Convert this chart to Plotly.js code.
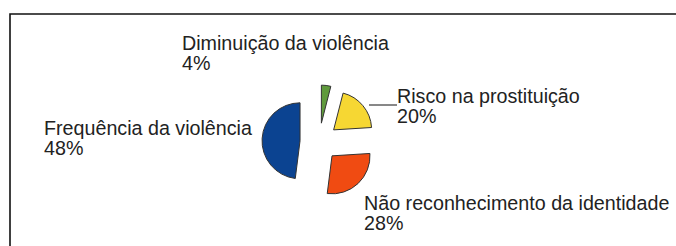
<!DOCTYPE html>
<html>
<head>
<meta charset="utf-8">
<script src="https://cdn.plot.ly/plotly-3.0.1.min.js"></script>
<style>html,body{margin:0;padding:0;background:#fff;}#chart{width:676px;height:246px;}</style>
</head>
<body>
<div id="chart"></div>
<script>
// Data
const labels = ['Diminuição da violência', 'Risco na prostituição', 'Não reconhecimento da identidade', 'Frequência da violência'];
const values = [4, 20, 28, 48];
const sliceColors = ['#5f9a3c', '#f6d733', '#f04b12', '#0b4391'];

const W = 676, H = 246;
const px = x => x / W;
const py = y => (H - y) / H;

// label placement (pixel positions of text left edge and cap middles)
const labelPos = [
  {x: 180, yName: 43, yPct: 63},
  {x: 395, yName: 96, yPct: 116},
  {x: 362, yName: 203, yPct: 223},
  {x: 42, yName: 128, yPct: 148}
];

const font = {family: 'Liberation Sans, Arial, sans-serif', size: 19.7, color: '#222'};
const annotations = [];
labels.forEach((lab, i) => {
  const p = labelPos[i];
  annotations.push({xref: 'paper', yref: 'paper', x: px(p.x), y: py(p.yName), xanchor: 'left', yanchor: 'middle', text: lab, showarrow: false, font: font});
  annotations.push({xref: 'paper', yref: 'paper', x: px(p.x), y: py(p.yPct), xanchor: 'left', yanchor: 'middle', text: values[i] + '%', showarrow: false, font: font});
});

const cx = 319, cy = 142, half = 57;
const trace = {
  type: 'pie',
  labels: labels,
  values: values,
  sort: false,
  direction: 'clockwise',
  rotation: 0,
  pull: [0.5, 0.5, 0.5, 0.5],
  textinfo: 'none',
  hoverinfo: 'label+percent',
  marker: {colors: sliceColors, line: {color: '#333', width: 1}},
  domain: {x: [px(cx - half), px(cx + half)], y: [py(cy + half), py(cy - half)]}
};

const layout = {
  width: W, height: H,
  margin: {l: 0, r: 0, t: 0, b: 0},
  paper_bgcolor: '#fff',
  plot_bgcolor: '#fff',
  showlegend: false,
  annotations: annotations,
  shapes: [
    {type: 'rect', xref: 'paper', yref: 'paper', x0: px(10), x1: 1.05, y0: -0.05, y1: py(14), line: {color: '#111', width: 1.6}, fillcolor: 'rgba(0,0,0,0)'},
    {type: 'line', xref: 'paper', yref: 'paper', x0: px(369), x1: px(397), y0: py(105), y1: py(105), line: {color: '#111', width: 1}}
  ]
};

Plotly.newPlot('chart', [trace], layout, {staticPlot: true, displayModeBar: false});
</script>
</body>
</html>
